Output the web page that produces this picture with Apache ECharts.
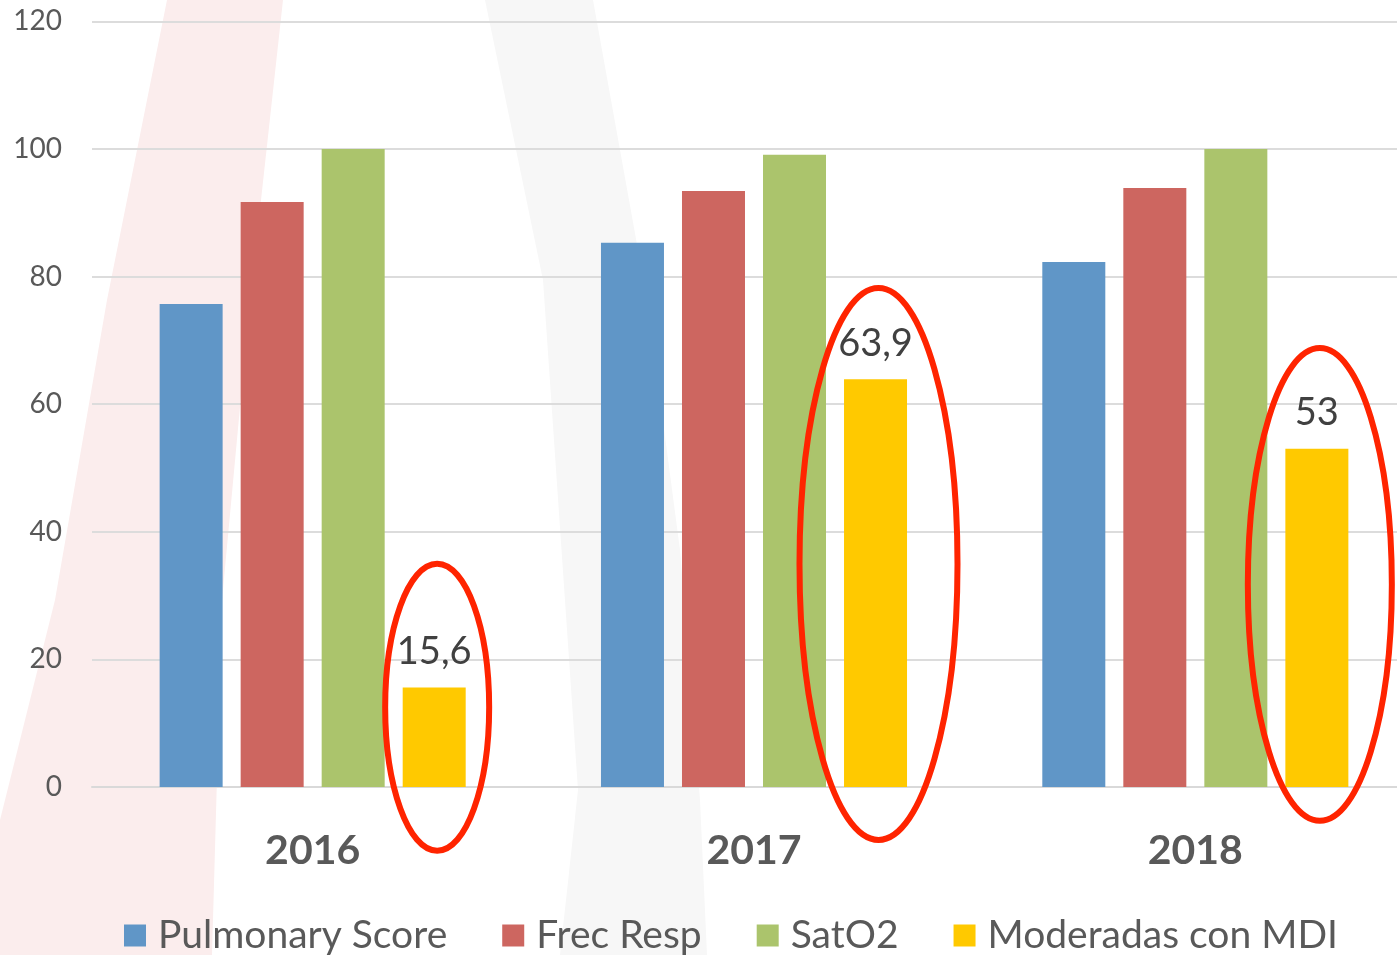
<!DOCTYPE html>
<html>
<head>
<meta charset="utf-8">
<script src="https://cdn.jsdelivr.net/npm/echarts@6.0.0/dist/echarts.min.js"></script>
<style>
  html, body { margin: 0; padding: 0; background: #fff; }
  #chart { width: 1397px; height: 955px; }
</style>
</head>
<body>
<div id="chart"></div>
<script>
// datos
var years = ["2016", "2017", "2018"];
var pulmonaryScore = [75.7, 85.3, 82.3];
var frecResp = [91.7, 93.4, 93.9];
var satO2 = [100, 99.1, 100];
var moderadasMDI = [15.6, 63.9, 53];
var seriesNames = ["Pulmonary Score", "Frec Resp", "SatO2", "Moderadas con MDI"];
// óvalos rojos (en unidades del eje): año, arriba, abajo
var ovalYears = ["2016", "2017", "2018"];
var ovalTop = [35.0, 78.2, 68.8];
var ovalBottom = [-10.0, -8.3, -5.3];

var colors = ["#6096c7", "#cd6660", "#abc46c", "#ffc900"];
var font = "Lato";
var txt = "#595959";

var dom = document.getElementById("chart");
var myChart = echarts.init(dom, null, { renderer: "canvas" });

function barSeries(name, data, idx) {
  var s = {
    name: name,
    type: "bar",
    data: data,
    barWidth: 63,
    barGap: "28.6%",
    itemStyle: { color: colors[idx] },
    z: 5,
  };
  if (idx === 3) {
    s.label = {
      show: true,
      position: "top",
      distance: 17,
      color: "#404040",
      fontFamily: font,
      fontSize: 38,
      formatter: function (p) {
        return String(p.value).replace(".", ",");
      },
    };
  }
  return s;
}

var option = {
  animation: false,
  grid: {
    left: 92,
    top: 21.4,
    width: 1324,
    height: 765.6,
    outerBoundsMode: "none",
    containLabel: false,
  },
  legend: {
    data: seriesNames,
    left: 119,
    top: 911,
    itemWidth: 22,
    itemHeight: 22,
    itemGap: 55,
    icon: "rect",
    textStyle: { color: txt, fontFamily: font, fontSize: 39, padding: [0, 0, 0, 7] },
  },
  xAxis: {
    type: "category",
    data: years,
    axisTick: { show: false },
    axisLine: { lineStyle: { color: "#d9d9d9", width: 2 } },
    axisLabel: {
      color: txt,
      fontFamily: font,
      fontWeight: "bold",
      fontSize: 41,
      margin: 43,
    },
  },
  yAxis: {
    type: "value",
    min: 0,
    max: 120,
    interval: 20,
    axisLine: { show: false },
    axisTick: { show: false },
    axisLabel: { color: txt, fontFamily: font, fontSize: 28, margin: 30 },
    splitLine: { lineStyle: { color: "#dcdcdc", width: 2 } },
  },
  series: [
    barSeries(seriesNames[0], pulmonaryScore, 0),
    barSeries(seriesNames[1], frecResp, 1),
    barSeries(seriesNames[2], satO2, 2),
    barSeries(seriesNames[3], moderadasMDI, 3),
  ],
};
myChart.setOption(option);

// decoraciones: marcas de agua de fondo y óvalos rojos
var graphics = [
  {
    type: "polygon",
    silent: true,
    z: -10,
    shape: { points: [[167, 0], [283, 0], [250, 300], [222, 600], [212, 955], [0, 955], [0, 820], [55, 600], [107, 300]] },
    style: { fill: "#fbeded" },
  },
  {
    type: "polygon",
    silent: true,
    z: -10,
    shape: { points: [[485, 0], [593, 0], [647, 300], [680, 550], [700, 800], [707, 955], [560, 955], [578, 790], [543, 280]] },
    style: { fill: "#f7f7f7" },
  },
];
var offset = 1.5 * (63 + 18);
for (var i = 0; i < ovalYears.length; i++) {
  var cx = myChart.convertToPixel({ xAxisIndex: 0 }, ovalYears[i]) + offset + 3;
  var yTop = myChart.convertToPixel({ yAxisIndex: 0 }, ovalTop[i]);
  var yBot = myChart.convertToPixel({ yAxisIndex: 0 }, ovalBottom[i]);
  var rx = i === 0 ? 52 : i === 1 ? 79 : 72;
  graphics.push({
    type: "ellipse",
    silent: true,
    z: 100,
    shape: { cx: cx, cy: (yTop + yBot) / 2, rx: rx, ry: (yBot - yTop) / 2 },
    style: { fill: null, stroke: "#ff2400", lineWidth: 6 },
  });
}
myChart.setOption({ graphic: graphics });
window.addEventListener("resize", myChart.resize);
</script>
</body>
</html>
